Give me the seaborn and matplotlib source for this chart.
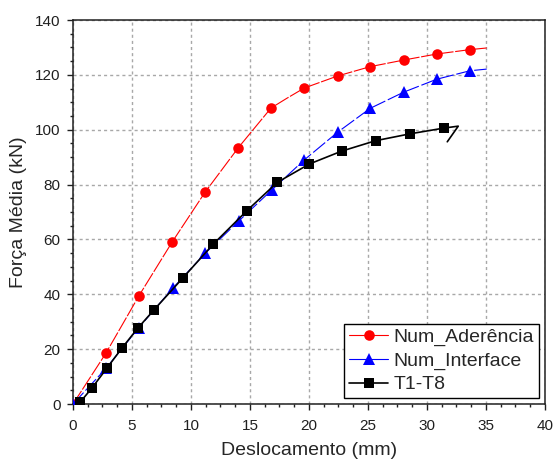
import matplotlib
matplotlib.use("Agg")
import matplotlib.pyplot as plt
from matplotlib.lines import Line2D
from matplotlib.ticker import MultipleLocator
import seaborn as sns
import pandas as pd

# Force-displacement curves (displacement in mm, force in kN).
# The last point(s) of each curve continue the line past the final marker.
aderencia_x = [0.0, 2.80, 5.58, 8.41, 11.19, 14.02, 16.78, 18.10, 19.60, 22.43, 25.19, 28.03, 30.82, 33.64, 35.06]
aderencia_y = [0.0, 18.6, 39.4, 59.1, 77.2, 93.5, 107.9, 111.4, 115.2, 119.6, 123.0, 125.4, 127.6, 129.2, 129.8]
aderencia_marks = [0, 1, 2, 3, 4, 5, 6, 8, 9, 10, 11, 12, 13]

interface_x = [0.0, 2.80, 5.57, 8.45, 11.19, 14.07, 16.84, 19.60, 22.43, 25.19, 28.03, 30.82, 33.64, 35.06]
interface_y = [0.0, 13.0, 27.8, 42.2, 54.9, 66.8, 78.0, 89.0, 99.1, 107.8, 113.7, 118.4, 121.5, 122.1]
interface_marks = list(range(13))

t1t8_x = [0.30, 0.59, 1.58, 2.86, 4.13, 5.48, 6.86, 9.30, 11.89, 14.72, 17.31, 20.03, 22.77, 25.65, 28.56, 31.44, 32.65, 31.72]
t1t8_y = [0.0, 0.6, 5.7, 13.0, 20.3, 27.6, 34.3, 45.9, 58.3, 70.4, 80.8, 87.5, 92.2, 96.0, 98.5, 100.6, 101.3, 95.6]
t1t8_marks = list(range(1, 16))

series_names = ["Num_Aderência", "Num_Interface", "T1-T8"]

sns.set_style("ticks")
plt.rcParams["font.family"] = ["Liberation Sans", "DejaVu Sans"]

fig = plt.figure(figsize=(5.53, 4.63), dpi=100)
ax = fig.add_axes([0.132, 0.1274, 0.8535, 0.8294])

styles = [
    dict(color="#ff0000", marker="o", markersize=7.6, linewidth=0.8, linestyle=(0, (14, 1.5))),
    dict(color="#0000ff", marker="^", markersize=8.0, linewidth=0.8, linestyle=(0, (14, 2.5))),
    dict(color="#000000", marker="s", markersize=6.6, linewidth=1.2, linestyle="-"),
]
curves = [
    (aderencia_x, aderencia_y, aderencia_marks),
    (interface_x, interface_y, interface_marks),
    (t1t8_x, t1t8_y, t1t8_marks),
]

for (xs, ys, marks), st in zip(curves, styles):
    df = pd.DataFrame({"x": xs, "y": ys})
    sns.lineplot(data=df, x="x", y="y", sort=False, estimator=None, ax=ax,
                 color=st["color"], linewidth=st["linewidth"], linestyle=st["linestyle"],
                 marker=st["marker"], markersize=st["markersize"], markevery=marks,
                 markeredgewidth=0, zorder=3)

ax.set_xlim(0, 40)
ax.set_ylim(0, 140)
ax.xaxis.set_major_locator(MultipleLocator(5))
ax.xaxis.set_minor_locator(MultipleLocator(1.25))
ax.yaxis.set_major_locator(MultipleLocator(20))
ax.yaxis.set_minor_locator(MultipleLocator(5))

ax.grid(True, which="major", color="#a8a8a8", linestyle=(0, (2.2, 2.2)), linewidth=1.0, zorder=0)
ax.set_axisbelow(True)

for side in ["left", "bottom", "top", "right"]:
    ax.spines[side].set_visible(True)
    ax.spines[side].set_color("#202020")
    ax.spines[side].set_linewidth(1.1)

ax.tick_params(axis="both", which="major", direction="out", length=4.5, width=1.0,
               labelsize=11, colors="#202020", top=False, right=False, pad=4.5)
ax.tick_params(axis="x", which="major", pad=6)
ax.tick_params(axis="both", which="minor", direction="out", length=2.5, width=1.0,
               colors="#202020", top=False, right=False)

ax.set_xlabel("Deslocamento (mm)", fontsize=14, labelpad=7)
ax.set_ylabel("Força Média (kN)", fontsize=14, labelpad=6)

handles = [
    Line2D([], [], color=st["color"], marker=st["marker"], markersize=st["markersize"],
           linewidth=st["linewidth"], markeredgewidth=0)
    for st in styles
]
leg = ax.legend(handles, series_names, loc="lower right", fontsize=14,
                frameon=True, fancybox=False, framealpha=1, edgecolor="#000000",
                borderaxespad=0.3, handlelength=2.0, handletextpad=0.3,
                labelspacing=0.3, borderpad=0.25)
leg.get_frame().set_linewidth(1.0)

fig.savefig("out.png", dpi=100)
